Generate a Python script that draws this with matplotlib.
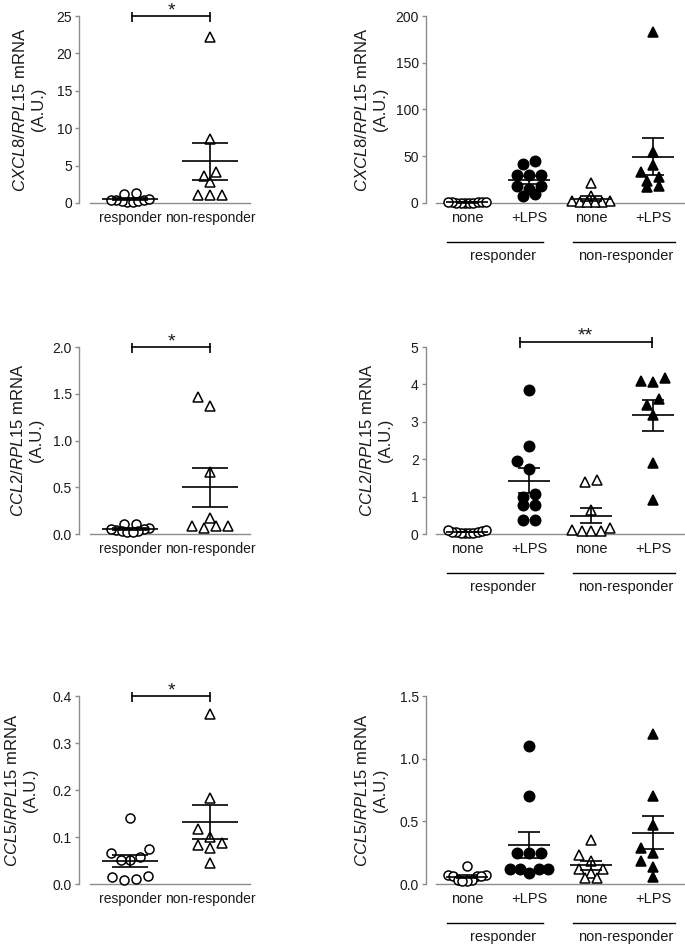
import numpy as np
import matplotlib
matplotlib.use('Agg')
import matplotlib.pyplot as plt
from matplotlib.transforms import blended_transform_factory

plt.rcParams['font.family'] = ['Liberation Sans', 'DejaVu Sans']
plt.rcParams['mathtext.fontset'] = 'custom'
plt.rcParams['mathtext.it'] = 'Liberation Sans:italic'
plt.rcParams['mathtext.rm'] = 'Liberation Sans'

# ---------------- data ----------------
left_groups = ['responder', 'non-responder']
right_groups = ['none', '+LPS', 'none', '+LPS']

cxcl8_resp = [0.15, 0.2, 0.25, 0.3, 0.35, 0.4, 0.45, 0.5, 1.2, 1.3]
cxcl8_nonresp = [22.2, 8.5, 3.55, 4.1, 2.75, 1.1, 1.1, 1.1]

cxcl8_resp_none = [0.2, 0.3, 0.4, 0.5, 0.5, 0.6, 0.7, 0.8, 0.9, 1.0]
cxcl8_resp_lps = [42, 44.8, 29.5, 29.5, 29.5, 17.8, 17.8, 15.3, 7.8, 9.6]
cxcl8_nonresp_none = [21, 7.8, 2.5, 2.0, 1.5, 1.2, 1.0, 0.8]
cxcl8_nonresp_lps = [183, 55, 40.9, 33, 27.7, 23, 17, 17.8]

ccl2_resp = [0.11, 0.11, 0.06, 0.05, 0.04, 0.03, 0.02, 0.03, 0.02, 0.05]
ccl2_nonresp = [1.46, 1.37, 0.66, 0.17, 0.09, 0.064, 0.09, 0.09]

ccl2_resp_none = [0.02, 0.03, 0.03, 0.04, 0.05, 0.05, 0.06, 0.08, 0.1, 0.11]
ccl2_resp_lps = [3.86, 2.34, 1.73, 1.95, 1.07, 0.99, 0.78, 0.78, 0.38, 0.38]
ccl2_nonresp_none = [1.38, 1.45, 0.63, 0.16, 0.07, 0.07, 0.07, 0.12]
ccl2_nonresp_lps = [4.18, 4.07, 4.09, 3.62, 3.46, 3.18, 1.91, 0.9]

ccl5_resp = [0.141, 0.067, 0.074, 0.051, 0.052, 0.058, 0.014, 0.0085, 0.011, 0.018]
ccl5_nonresp = [0.362, 0.182, 0.118, 0.101, 0.083, 0.076, 0.087, 0.045]

ccl5_resp_none = [0.145, 0.07, 0.07, 0.06, 0.06, 0.06, 0.03, 0.03, 0.02, 0.02]
ccl5_resp_lps = [1.10, 0.70, 0.246, 0.246, 0.246, 0.12, 0.12, 0.087, 0.12, 0.12]
ccl5_nonresp_none = [0.35, 0.23, 0.18, 0.12, 0.12, 0.09, 0.05, 0.05]
ccl5_nonresp_lps = [1.2, 0.7, 0.47, 0.29, 0.245, 0.185, 0.138, 0.053]

genes = ['CXCL8', 'CCL2', 'CCL5']
y_max = [25, 2.0, 0.4]
y_ticks = [[0, 5, 10, 15, 20, 25], [0.0, 0.5, 1.0, 1.5, 2.0], [0.0, 0.1, 0.2, 0.3, 0.4]]
y_fmt = ['{:.0f}', '{:.1f}', '{:.1f}']
y_max_r = [200, 5, 1.5]
y_ticks_r = [[0, 50, 100, 150, 200], [0, 1, 2, 3, 4, 5], [0.0, 0.5, 1.0, 1.5]]
y_fmt_r = ['{:.0f}', '{:.0f}', '{:.1f}']

left_data = [[cxcl8_resp, cxcl8_nonresp], [ccl2_resp, ccl2_nonresp], [ccl5_resp, ccl5_nonresp]]
right_data = [[cxcl8_resp_none, cxcl8_resp_lps, cxcl8_nonresp_none, cxcl8_nonresp_lps],
              [ccl2_resp_none, ccl2_resp_lps, ccl2_nonresp_none, ccl2_nonresp_lps],
              [ccl5_resp_none, ccl5_resp_lps, ccl5_nonresp_none, ccl5_nonresp_lps]]

left_sig = ['*', '*', '*']
right_sig = [None, '**', None]

# ---------------- layout (pixels) ----------------
W, H = 685, 946
DPI = 100
fig = plt.figure(figsize=(W / DPI, H / DPI), dpi=DPI)

rows_top = [16, 347, 696]
rows_bot = [203, 534, 884]
L_x0, L_x1 = 90, 250
R_x0, R_x1 = 436, 684
gray = '#8c8c8c'
txt = '#1a1a1a'
label_x_left = [29, 27, 21]
label_x_right = [371, 376, 371]


def scatter_offsets(vals, ypx, s=12.0, h=11.0, gap=4.6, limit=19.0, dchk=10.5):
    """GraphPad-like horizontal spreading of points (in pixels)."""
    ys = np.asarray(vals, float) * ypx
    order = np.argsort(ys, kind='stable')
    rows = []
    for i in order:
        if rows and ys[i] - ys[rows[-1][0]] < h and ys[i] - ys[rows[-1][-1]] < gap:
            rows[-1].append(i)
        else:
            rows.append([i])
    xs = np.zeros(len(ys))
    placed = []
    for row in rows:
        k = len(row)
        sp = s if k == 1 else min(s, 2 * limit / (k - 1))
        slots = list((np.arange(k) - (k - 1) / 2.0) * sp)
        slots.sort(key=lambda v: (round(abs(v), 6), v))
        for idx, i in enumerate(row):
            xs[i] = slots[idx]
        if k == 1 and placed:
            i = row[0]
            for shift in [0, -s / 2, s / 2, -s, s, -1.5 * s, 1.5 * s]:
                if all((shift - xs[j]) ** 2 + (ys[i] - ys[j]) ** 2 >= dchk * dchk for j in placed):
                    xs[i] = shift
                    break
        placed += row
    return xs


def draw_group(ax, x0, vals, marker, filled, ms, ypx, xpx, half_mean, half_cap):
    off = scatter_offsets(vals, ypx) / xpx
    ax.plot(x0 + off, vals, linestyle='none', marker=marker, ms=ms,
            mfc='black' if filled else 'white', mec='black', mew=1.1,
            clip_on=False, zorder=3)
    v = np.asarray(vals, float)
    m = v.mean()
    se = v.std(ddof=1) / np.sqrt(len(v))
    ax.hlines(m, x0 - half_mean, x0 + half_mean, color='black', lw=1.2, zorder=4, clip_on=False)
    ax.hlines([m - se, m + se], x0 - half_cap, x0 + half_cap, color='black', lw=1.2, zorder=4,
              clip_on=False)
    ax.vlines(x0, m - se, m + se, color='black', lw=1.2, zorder=4, clip_on=False)


def sig_bar(ax, x1, x2, y, text, ypx):
    up, dn = 4.5 / ypx, 6.0 / ypx
    ax.plot([x1, x2], [y, y], color='black', lw=1.2, clip_on=False, zorder=5)
    ax.vlines([x1, x2], y - dn, y + up, color='black', lw=1.2, clip_on=False, zorder=5)
    ax.text((x1 + x2) / 2, y + 1.0 / ypx, text, ha='center', va='baseline',
            fontsize=14, color=txt, clip_on=False)


def style_axes(ax, ymax, ticks, fmt, xlabels, offset_pt, xfs):
    n = len(xlabels)
    ax.set_xlim(-0.5, n - 0.5)
    ax.set_ylim(0, ymax)
    ax.patch.set_visible(False)
    for s in ['top', 'right']:
        ax.spines[s].set_visible(False)
    ax.spines['left'].set_position(('outward', offset_pt))
    for s in ['left', 'bottom']:
        ax.spines[s].set_color(gray)
        ax.spines[s].set_linewidth(1.0)
    ax.set_yticks(ticks)
    ax.set_yticklabels([fmt.format(t) for t in ticks])
    ax.set_xticks(range(n))
    ax.set_xticklabels(xlabels)
    ax.tick_params(axis='x', length=0, pad=6, labelsize=xfs, labelcolor=txt)
    ax.tick_params(axis='y', length=3, width=1, color=gray, pad=2, labelsize=10, labelcolor=txt)


for r in range(3):
    top, bot = rows_top[r], rows_bot[r]
    hpx = bot - top
    ylabel = r'$\mathit{' + genes[r] + r'/RPL15}$ mRNA' + '\n(A.U.)'

    # ---- left panel ----
    axL = fig.add_axes([L_x0 / W, (H - bot) / H, (L_x1 - L_x0) / W, hpx / H])
    style_axes(axL, y_max[r], y_ticks[r], y_fmt[r], left_groups, 8, 10)
    ypx = hpx / y_max[r]
    xpx = (L_x1 - L_x0) / 2.0
    draw_group(axL, 0, left_data[r][0], 'o', False, 6.5, ypx, xpx, 0.356, 0.22)
    draw_group(axL, 1, left_data[r][1], '^', False, 7, ypx, xpx, 0.356, 0.22)
    sig_bar(axL, 0.03, 1.0, y_max[r] * 0.998, left_sig[r], ypx)
    axL.text((label_x_left[r] - L_x0) / (L_x1 - L_x0), 0.5, ylabel, transform=axL.transAxes,
             rotation=90, ha='center', va='center', rotation_mode='anchor',
             multialignment='center', fontsize=12, linespacing=1.3, color=txt)

    # ---- right panel ----
    axR = fig.add_axes([R_x0 / W, (H - bot) / H, (R_x1 - R_x0) / W, hpx / H])
    style_axes(axR, y_max_r[r], y_ticks_r[r], y_fmt_r[r], right_groups, 7.5, 10.5)
    ypx = hpx / y_max_r[r]
    xpx = (R_x1 - R_x0) / 4.0
    styles = [('o', False, 6.5), ('o', True, 7.5), ('^', False, 7), ('^', True, 7)]
    for g in range(4):
        mk, fl, ms = styles[g]
        draw_group(axR, g, right_data[r][g], mk, fl, ms, ypx, xpx, 0.336, 0.175)
    if right_sig[r]:
        sig_bar(axR, 0.85, 2.98, y_max_r[r] + 5.5 / ypx, right_sig[r], ypx)
    axR.text((label_x_right[r] - R_x0) / (R_x1 - R_x0), 0.5, ylabel, transform=axR.transAxes,
             rotation=90, ha='center', va='center', rotation_mode='anchor',
             multialignment='center', fontsize=12, linespacing=1.3, color=txt)
    tr = blended_transform_factory(axR.transData, axR.transAxes)
    yl = -39.0 / hpx
    ytl = -53.0 / hpx
    axR.plot([-0.32, 1.23], [yl, yl], transform=tr, color='black', lw=1.0, clip_on=False)
    axR.plot([1.71, 3.35], [yl, yl], transform=tr, color='black', lw=1.0, clip_on=False)
    axR.text(0.58, ytl, 'responder', transform=tr, ha='center', va='center',
             fontsize=10.5, color=txt)
    axR.text(2.56, ytl, 'non-responder', transform=tr, ha='center', va='center',
             fontsize=10.5, color=txt)

fig.savefig('out.png', dpi=DPI)
